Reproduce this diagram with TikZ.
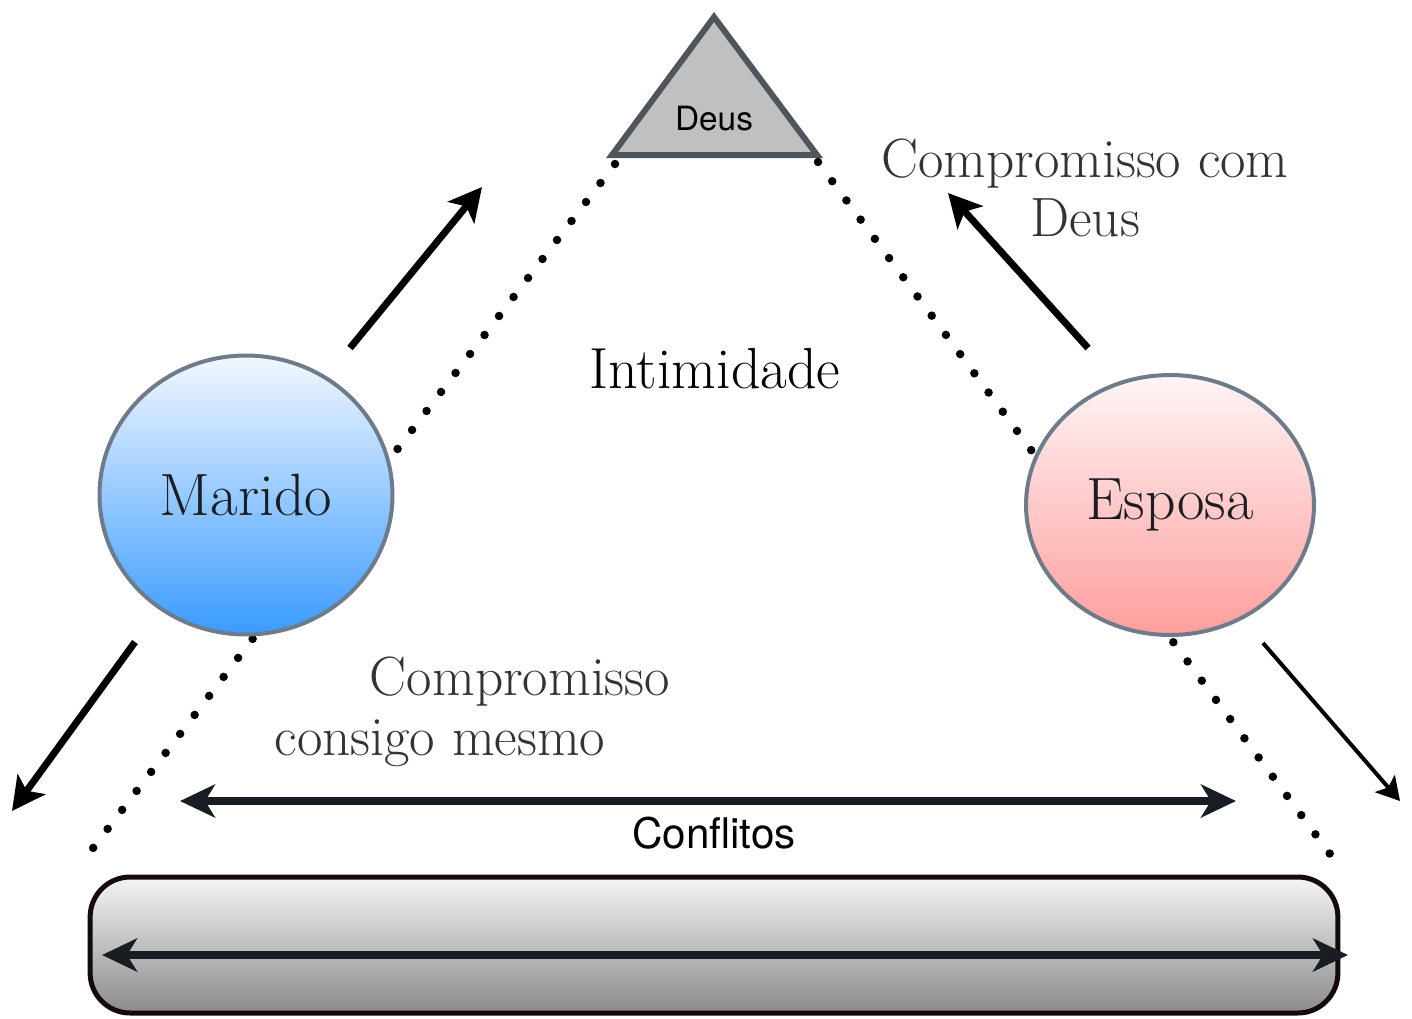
\documentclass[tikz,border=0pt]{standalone}
\usepackage{fontspec}
\newfontfamily\helv{TeX Gyre Heros}
\usetikzlibrary{arrows.meta,shapes.geometric}
\definecolor{mtop}{HTML}{F2F8FF}
\definecolor{mbot}{HTML}{3A9BFF}
\definecolor{etop}{HTML}{FFF5F5}
\definecolor{ebot}{HTML}{FF9E9E}
\definecolor{rtop}{HTML}{F5F5F5}
\definecolor{rbot}{HTML}{8A8A8A}
\definecolor{ringcol}{HTML}{6E7B8B}
\definecolor{trifill}{HTML}{C0C0C0}
\definecolor{tridraw}{HTML}{50555C}
\definecolor{rectedge}{HTML}{140A0E}
\definecolor{arrowdark}{HTML}{171D22}
\definecolor{txtgray}{HTML}{333333}
\definecolor{txtdark}{HTML}{1A1E22}
\begin{document}
\begin{tikzpicture}[x=0.02cm,y=-0.02cm,
  sertext/.style={font=\fontsize{31.5}{34}\selectfont, inner sep=0pt},
  sanstext/.style={inner sep=0pt, anchor=base},
  dotline/.style={line width=0.17cm, line cap=round, dash pattern=on 0pt off 0.478cm, black},
  person/.style={ellipse, draw=ringcol, line width=0.08cm, inner sep=0pt, font=\fontsize{34}{38}\selectfont, text=txtdark},
  bigarrow/.style={line width=0.14cm, black, -{Stealth[length=0.66cm,width=0.68cm,inset=0.16cm]}},
  thinarrow/.style={line width=0.08cm, black, -{Stealth[length=0.46cm,width=0.52cm,inset=0.1cm]}},
  dblarrow/.style={line width=0.16cm, arrowdark, {Stealth[length=0.7cm,width=0.66cm,inset=0.2cm]}-{Stealth[length=0.7cm,width=0.66cm,inset=0.2cm]}}
]
\useasboundingbox (0,0) rectangle (1412,1018);

% Deus triangle
\coordinate (apex) at (714,17);
\coordinate (bl) at (612,155);
\coordinate (br) at (817,155);
\filldraw[fill=trifill, draw=tridraw, line width=0.12cm, line join=miter] (apex) -- (br) -- (bl) -- cycle;
\node[sanstext, font=\helv\fontsize{19}{22}\selectfont] (deus) at (714,130) {Deus};

% dotted lines
\coordinate (dl1) at (615,164);
\coordinate (dl2) at (90,852);
\coordinate (dr1) at (818,162);
\coordinate (dr2) at (1333,858);
\draw[dotline] (dl1) -- (dl2);
\draw[dotline] (dr1) -- (dr2);

% persons
\node[person, minimum width=5.86cm, minimum height=5.58cm, top color=mtop, bottom color=mbot] (marido) at (246,495) {Marido};
\node[person, minimum width=5.76cm, minimum height=5.2cm, top color=etop, bottom color=ebot] (esposa) at (1170,505) {Esposa};

% arrows
\coordinate (a1s) at (350,348);
\coordinate (a1e) at (482,187);
\coordinate (a2s) at (1088,348);
\coordinate (a2e) at (948,193);
\coordinate (a3s) at (135,642);
\coordinate (a3e) at (12,811);
\coordinate (a4s) at (1263,643);
\coordinate (a4e) at (1400,801);
\draw[bigarrow] (a1s) -- (a1e);
\draw[bigarrow] (a2s) -- (a2e);
\draw[bigarrow] (a3s) -- (a3e);
\draw[thinarrow] (a4s) -- (a4e);

% conflicts arrow
\coordinate (c1) at (180,801);
\coordinate (c2) at (1236,801);
\draw[dblarrow] (c1) -- (c2);
\node[sanstext, font=\helv\fontsize{24}{28}\selectfont] (confl) at (714,848) {Conflitos};

% bottom bar
\node[draw=rectedge, line width=0.1cm, rounded corners=0.8cm, minimum width=24.96cm, minimum height=2.72cm, top color=rtop, bottom color=rbot, inner sep=0pt] (bar) at (714,945) {};
\coordinate (b1) at (102,955);
\coordinate (b2) at (1348,955);
\draw[dblarrow] (b1) -- (b2);

% texts
\node[sertext, anchor=base, text=black, font=\fontsize{33}{36}\selectfont] (intim) at (715,388) {Intimidade};
\node[sertext, align=center, text=txtgray] (cdeus) at (1085,188) {Compromisso com\\Deus};
\node[sertext, anchor=base, text=txtgray] (comp1) at (520,695) {Compromisso};
\node[sertext, anchor=base, text=txtgray] (comp2) at (440,755) {consigo mesmo};
\end{tikzpicture}
\end{document}
